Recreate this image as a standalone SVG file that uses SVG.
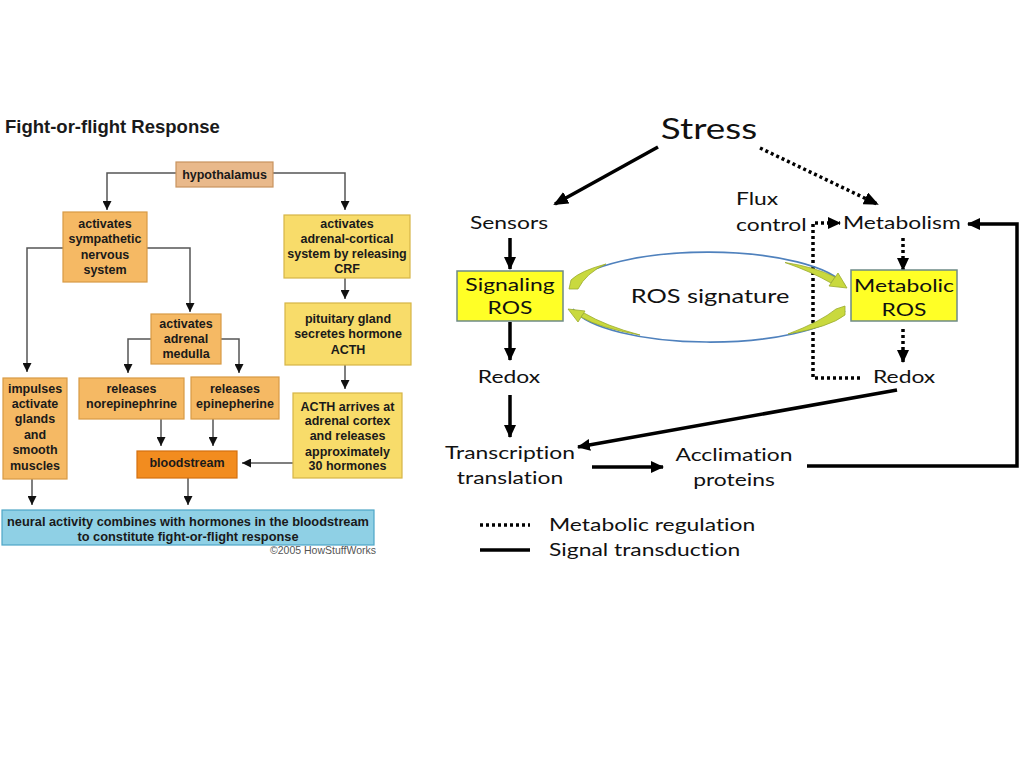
<svg xmlns="http://www.w3.org/2000/svg" width="1024" height="768" viewBox="0 0 1024 768">
<defs>
<style>
.lt{font-family:"Liberation Sans",Arial,sans-serif;font-weight:bold;font-size:12.5px;fill:#1a1a1a;text-anchor:middle}
.rt{font-family:Lato,"Open Sans",sans-serif;font-size:18px;fill:#111;text-anchor:middle;font-variant-ligatures:none}
.rl{font-family:Lato,"Open Sans",sans-serif;font-size:18px;fill:#111;font-variant-ligatures:none}
.ln{fill:none;stroke:#555;stroke-width:1.5}
.sol{fill:none;stroke:#000;stroke-width:3.5}
.dot{fill:none;stroke:#000;stroke-width:3.5;stroke-dasharray:3 3}
.orange{fill:#f5b964;stroke:#d89a45;stroke-width:1.2}
.yellow{fill:#f8dc6a;stroke:#d6b546;stroke-width:1.2}
.ybox{fill:#ffff26;stroke:#6e8a86;stroke-width:1.5}
.ros{fill:#c9d93e;stroke:#9aab2e;stroke-width:0.8}
</style>
<marker id="la" markerUnits="userSpaceOnUse" markerWidth="9" markerHeight="9" viewBox="0 0 9 9" refX="9" refY="4.5" orient="auto"><path d="M0,0 L9,4.5 L0,9 z" fill="#111"/></marker>
<marker id="ra" markerUnits="userSpaceOnUse" markerWidth="15" markerHeight="13" viewBox="0 0 15 13" refX="13" refY="6.5" orient="auto"><path d="M0,0 L15,6.5 L0,13 z" fill="#000"/></marker>
<marker id="rs" markerUnits="userSpaceOnUse" markerWidth="13" markerHeight="12" viewBox="0 0 13 12" refX="12" refY="6" orient="auto"><path d="M0,0 L13,6 L0,12 z" fill="#000"/></marker>
</defs>
<rect width="1024" height="768" fill="#fff"/>

<!-- LEFT: Fight-or-flight -->
<text x="5" y="133" font-family="Liberation Sans,Arial,sans-serif" font-weight="bold" font-size="18.5" fill="#1a1a1a">Fight-or-flight Response</text>

<g id="left-connectors">
<path class="ln" d="M176,173 H107 V210" marker-end="url(#la)"/>
<path class="ln" d="M273,173 H345 V210" marker-end="url(#la)"/>
<path class="ln" d="M63,248 H27 V372" marker-end="url(#la)"/>
<path class="ln" d="M147,248 H190 V312" marker-end="url(#la)"/>
<path class="ln" d="M151,339 H128 V373" marker-end="url(#la)"/>
<path class="ln" d="M221,339 H239 V373" marker-end="url(#la)"/>
<path class="ln" d="M345,278 V299" marker-end="url(#la)"/>
<path class="ln" d="M345,365 V389" marker-end="url(#la)"/>
<path class="ln" d="M161,419 V446" marker-end="url(#la)"/>
<path class="ln" d="M213,419 V446" marker-end="url(#la)"/>
<path class="ln" d="M293,463 H242" marker-end="url(#la)"/>
<path class="ln" d="M32,479 V505" marker-end="url(#la)"/>
<path class="ln" d="M188,478 V505" marker-end="url(#la)"/>
</g>

<g id="hypothalamus">
<rect x="176" y="162" width="97" height="25" fill="#e9b98b" stroke="#c8935f" stroke-width="1.2"/>
<text class="lt" x="224.5" y="178.5">hypothalamus</text>
</g>
<g id="sympathetic">
<rect class="orange" x="63" y="212" width="84" height="70"/>
<text class="lt" x="105" y="228">activates</text>
<text class="lt" x="105" y="243">sympathetic</text>
<text class="lt" x="105" y="259">nervous</text>
<text class="lt" x="105" y="274">system</text>
</g>
<g id="crf">
<rect class="yellow" x="284" y="215" width="126" height="63"/>
<text class="lt" x="347" y="228">activates</text>
<text class="lt" x="347" y="243">adrenal-cortical</text>
<text class="lt" x="347" y="258">system by releasing</text>
<text class="lt" x="347" y="273">CRF</text>
</g>
<g id="pituitary">
<rect class="yellow" x="285" y="303" width="126" height="62"/>
<text class="lt" x="348" y="323">pituitary gland</text>
<text class="lt" x="348" y="338">secretes hormone</text>
<text class="lt" x="348" y="354">ACTH</text>
</g>
<g id="medulla">
<rect class="orange" x="151" y="314" width="70" height="50"/>
<text class="lt" x="186" y="328">activates</text>
<text class="lt" x="186" y="343">adrenal</text>
<text class="lt" x="186" y="358">medulla</text>
</g>
<g id="impulses">
<rect class="orange" x="3" y="378" width="64" height="101"/>
<text class="lt" x="35" y="393">impulses</text>
<text class="lt" x="35" y="408">activate</text>
<text class="lt" x="35" y="423">glands</text>
<text class="lt" x="35" y="439">and</text>
<text class="lt" x="35" y="454">smooth</text>
<text class="lt" x="35" y="470">muscles</text>
</g>
<g id="norepinephrine">
<rect class="orange" x="79" y="378" width="105" height="41"/>
<text class="lt" x="131.5" y="393">releases</text>
<text class="lt" x="131.5" y="408">norepinephrine</text>
</g>
<g id="epinepherine">
<rect class="orange" x="191" y="377" width="88" height="42"/>
<text class="lt" x="235" y="393">releases</text>
<text class="lt" x="235" y="408">epinepherine</text>
</g>
<g id="acth">
<rect class="yellow" x="293" y="393" width="109" height="85"/>
<text class="lt" x="347.5" y="411">ACTH arrives at</text>
<text class="lt" x="347.5" y="425">adrenal cortex</text>
<text class="lt" x="347.5" y="440">and releases</text>
<text class="lt" x="347.5" y="456">approximately</text>
<text class="lt" x="347.5" y="470">30 hormones</text>
</g>
<g id="bloodstream">
<rect x="137" y="451" width="100" height="27" fill="#f28c1f" stroke="#d4700f" stroke-width="1.2"/>
<text class="lt" x="187" y="467">bloodstream</text>
</g>
<g id="result">
<rect x="2" y="510" width="372" height="35" fill="#8fd0e5" stroke="#4ea6c6" stroke-width="1.2"/>
<text class="lt" x="188" y="526" style="font-size:12.8px">neural activity combines with hormones in the bloodstream</text>
<text class="lt" x="188" y="541" style="font-size:12.8px">to constitute fight-or-flight response</text>
</g>
<text x="376" y="554" text-anchor="end" font-family="Liberation Sans,Arial,sans-serif" font-size="10.5" fill="#555">©2005 HowStuffWorks</text>

<!-- RIGHT: ROS diagram -->
<g id="right-connectors">
<path class="sol" d="M658,147 L555,204" marker-end="url(#ra)"/>
<path class="dot" d="M760,148 L877,204" marker-end="url(#ra)"/>
<path class="sol" d="M510,238 V269" marker-end="url(#rs)"/>
<path class="sol" d="M510,322 V360" marker-end="url(#rs)"/>
<path class="sol" d="M510,395 V437" marker-end="url(#rs)"/>
<path class="sol" d="M592,467 H663" marker-end="url(#rs)"/>
<path class="sol" d="M897,390 L578,447" marker-end="url(#rs)"/>
<path class="sol" d="M807,466 H1017 V224 H968" marker-end="url(#rs)"/>
<path class="dot" d="M903,238 V270" marker-end="url(#rs)"/>
<path class="dot" d="M903,329 V362" marker-end="url(#rs)"/>
<path class="dot" d="M860,378 H813 V223 H840" marker-end="url(#rs)"/>
</g>

<g id="ros-signature">
<path d="M571,285 A140,42 0 0 1 845,286" fill="none" stroke="#4f81bd" stroke-width="1.6"/>
<path d="M845,311 A140,42 0 0 1 573,309" fill="none" stroke="#4f81bd" stroke-width="1.6"/>
<path class="ros" d="M785,262.5 Q815,267 835,277 L831,283 Q812,272 785,262.5 Z"/>
<path class="ros" d="M829,286 L838,273 L847,288 Z"/>
<path class="ros" d="M569,289 L571,280 Q580,271 606,264 Q586,273 578,289 Z"/>
<path class="ros" d="M568,309 L585,311 L578,322 Z"/>
<path class="ros" d="M581,317 Q600,328 640,335 Q606,326 584,313 Z"/>
<path class="ros" d="M845,306 L845,315 Q830,327 788,334 Q820,322 836,309 Z"/>
<text class="rt" transform="translate(710,303) scale(1.27,1)" style="font-size:20px">ROS signature</text>
</g>

<g id="stress"><text class="rt" transform="translate(709,139) scale(1.27,1)" style="font-size:29px">Stress</text></g>
<g id="sensors"><text class="rt" transform="translate(509,229) scale(1.27,1)">Sensors</text></g>
<g id="flux"><text class="rl" transform="translate(736,205) scale(1.27,1)">Flux</text><text class="rl" transform="translate(736,231) scale(1.27,1)">control</text></g>
<g id="metabolism"><text class="rl" transform="translate(843,229) scale(1.27,1)">Metabolism</text></g>
<g id="signaling-ros">
<rect class="ybox" x="457" y="271" width="106" height="50"/>
<text class="rt" transform="translate(510,291) scale(1.27,1)">Signaling</text>
<text class="rt" transform="translate(510,314) scale(1.27,1)">ROS</text>
</g>
<g id="metabolic-ros">
<rect class="ybox" x="851" y="270" width="106" height="51"/>
<text class="rt" transform="translate(904,292) scale(1.27,1)">Metabolic</text>
<text class="rt" transform="translate(904,316) scale(1.27,1)">ROS</text>
</g>
<g id="redox-left"><text class="rt" transform="translate(509,383) scale(1.27,1)">Redox</text></g>
<g id="redox-right"><text class="rl" transform="translate(873,383) scale(1.27,1)">Redox</text></g>
<g id="transcription"><text class="rt" transform="translate(510,459) scale(1.27,1)">Transcription</text><text class="rt" transform="translate(510,484) scale(1.27,1)">translation</text></g>
<g id="acclimation"><text class="rt" transform="translate(734,461) scale(1.27,1)">Acclimation</text><text class="rt" transform="translate(734,486) scale(1.27,1)">proteins</text></g>
<g id="legend">
<path class="dot" d="M480,525 H530"/>
<path class="sol" d="M480,550 H530"/>
<text class="rl" transform="translate(549,531) scale(1.27,1)">Metabolic regulation</text>
<text class="rl" transform="translate(549,556) scale(1.27,1)">Signal transduction</text>
</g>
</svg>
